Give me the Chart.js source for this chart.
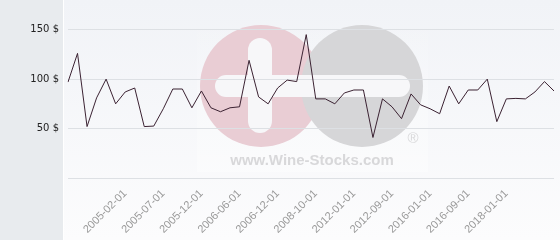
<!DOCTYPE html>
<html>
<head>
<meta charset="utf-8">
<script src="https://cdn.jsdelivr.net/npm/chart.js@4/dist/chart.umd.min.js"></script>
<style>
  body { margin: 0; background: #fff; }
  #wrap { width: 560px; height: 240px; }
</style>
</head>
<body>
<div id="wrap"><canvas id="priceChart" width="560" height="240"></canvas></div>
<script>
// price history, one value per sample (in $)
const prices = [
  97, 126, 52, 81, 100, 75, 87, 91, 52, 52.5,
  70, 90, 90, 71, 88, 71, 67, 71, 72, 119,
  82, 75, 91, 99, 97.5, 145, 80, 80, 75, 86,
  89, 89, 41, 80, 72, 60, 85, 74, 70, 65,
  93, 75, 89, 89, 100, 57, 80, 80.5, 80, 87,
  97.5, 88
];

// dates printed under the x axis (every 4th sample, starting at sample 6)
const tickDates = [
  '2005-02-01', '2005-07-01', '2005-12-01', '2006-06-01', '2006-12-01',
  '2008-10-01', '2012-01-01', '2012-09-01', '2016-01-01', '2016-09-01',
  '2018-01-01'
];
const firstTick = 6;
const tickStep = 4;

const yTicks = [0, 50, 100, 150];

// samples without a printed date get an empty label
const labels = prices.map((v, i) => {
  const k = (i - firstTick) / tickStep;
  return (Number.isInteger(k) && k >= 0 && k < tickDates.length) ? tickDates[k] : '';
});

// panel backgrounds and the wine-stocks watermark
const backdrop = {
  id: 'backdrop',
  beforeDraw(chart) {
    const ctx = chart.ctx;
    ctx.save();
    ctx.fillStyle = '#e8ebee';
    ctx.fillRect(0, 0, 63, 240);
    ctx.fillStyle = '#ffffff';
    ctx.fillRect(63, 0, 1, 240);
    const g = ctx.createLinearGradient(0, 0, 0, 240);
    g.addColorStop(0, '#f1f3f7');
    g.addColorStop(1, '#fcfcfd');
    ctx.fillStyle = g;
    ctx.fillRect(64, 0, 496, 240);

    // faint white card behind logo, fading in towards the bottom
    const card = ctx.createLinearGradient(0, 14, 0, 172);
    card.addColorStop(0, 'rgba(255,255,255,0)');
    card.addColorStop(1, 'rgba(255,255,255,0.4)');
    ctx.fillStyle = card;
    ctx.fillRect(197, 14, 231, 158);

    ctx.fillStyle = '#e9cdd4';
    ctx.beginPath();
    ctx.arc(261, 86, 61, 0, Math.PI * 2);
    ctx.fill();
    ctx.fillStyle = '#d6d6d8';
    ctx.beginPath();
    ctx.arc(362, 86, 61, 0, Math.PI * 2);
    ctx.fill();

    ctx.fillStyle = '#f7f7f9';
    ctx.beginPath();
    ctx.roundRect(215, 75, 195, 22, 11);
    ctx.fill();
    ctx.beginPath();
    ctx.roundRect(248, 38, 24, 95, 12);
    ctx.fill();

    ctx.fillStyle = '#d8d8da';
    ctx.font = 'bold 15px "Liberation Sans", Arial, sans-serif';
    ctx.textAlign = 'center';
    ctx.textBaseline = 'middle';
    ctx.fillText('www.Wine-Stocks.com', 312, 161);
    ctx.font = '15px "Liberation Sans", Arial, sans-serif';
    ctx.fillText('\u00AE', 413, 139);
    ctx.restore();
  }
};

new Chart(document.getElementById('priceChart'), {
  type: 'line',
  data: {
    labels: labels,
    datasets: [{
      data: prices,
      borderColor: '#3b2232',
      borderWidth: 1,
      pointRadius: 0,
      tension: 0,
      fill: false
    }]
  },
  options: {
    responsive: false,
    animation: false,
    layout: { padding: { top: 0, right: 6, bottom: 0, left: 0 } },
    plugins: { legend: { display: false }, tooltip: { enabled: false } },
    scales: {
      x: {
        grid: { display: false },
        border: { display: false },
        afterFit(scale) {
          scale.height = 62;
          scale.paddingLeft = 0;
          scale.paddingRight = 0;
        },
        ticks: {
          autoSkip: false,
          minRotation: 45,
          maxRotation: 45,
          padding: 1,
          color: '#999',
          font: { family: '"Liberation Sans", Arial, sans-serif', size: 11 }
        }
      },
      y: {
        min: 0,
        max: 180,
        afterBuildTicks(scale) {
          scale.ticks = yTicks.map(v => ({ value: v }));
        },
        afterFit(scale) {
          scale.width = 68;
          scale.paddingTop = 0;
          scale.paddingBottom = 0;
        },
        grid: { color: '#dde0e4', drawTicks: false },
        border: { display: false },
        ticks: {
          padding: 9,
          color: '#222',
          font: { family: '"DejaVu Sans", sans-serif', size: 10 },
          callback: v => (v === 0 ? '' : v + ' $')
        }
      }
    }
  },
  plugins: [backdrop]
});
</script>
</body>
</html>
